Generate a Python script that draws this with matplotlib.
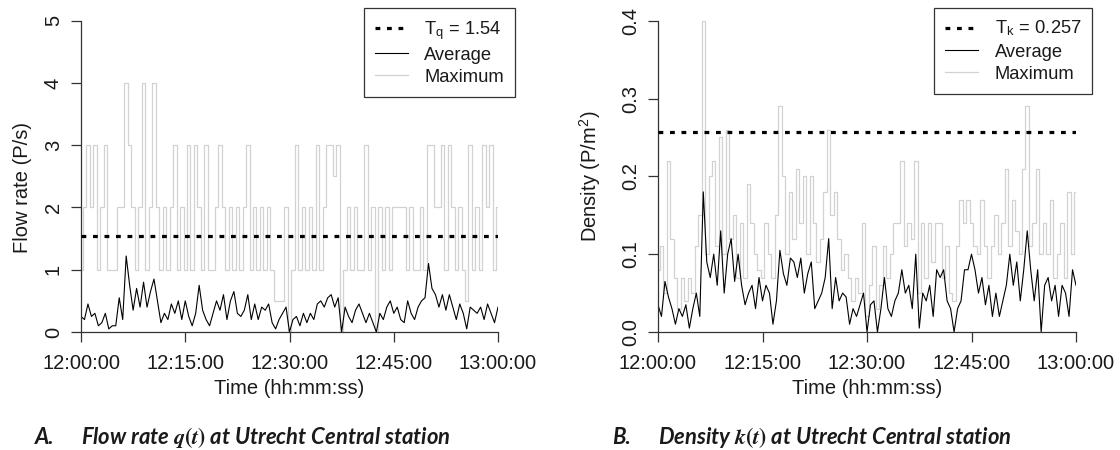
import matplotlib
matplotlib.use("Agg")
import matplotlib.pyplot as plt
import numpy as np

plt.rcParams['font.family'] = ['Liberation Sans', 'DejaVu Sans']
plt.rcParams['mathtext.fontset'] = 'stix'

# time in minutes after 12:00:00, one sample every 30 s
minutes = np.arange(121) * 0.5
tick_minutes = [0, 15, 30, 45, 60]
tick_labels = ['12:00:00', '12:15:00', '12:30:00', '12:45:00', '13:00:00']

# flow rate (P/s)
flow_max = [
    1, 2, 3, 2, 3, 1, 2, 3, 1, 1, 1, 2, 2, 4, 3, 2, 1, 2, 4, 1,
    2, 4, 2, 1, 2, 1, 2, 3, 1, 2, 1, 3, 1, 3, 2, 1, 3, 1, 1, 2,
    3, 2, 1, 2, 1, 2, 1, 2, 3, 1, 2, 1, 2, 1, 2, 1, 0.5, 0.5, 0.5, 2,
    0, 1, 3, 1, 2, 1, 2, 1, 3, 1, 2, 3, 3, 2.5, 3, 0, 1, 2, 1, 2,
    1, 1, 3, 1, 2, 0, 2, 1, 2, 1, 2, 2, 2, 2, 1, 2, 1, 1, 2, 1,
    3, 3, 2, 2, 3, 1, 3, 2, 1, 2, 1, 0.5, 3, 1, 2, 1, 3, 2, 3, 1,
    2,
]
flow_avg = [
    0.25, 0.2, 0.45, 0.25, 0.3, 0.1, 0.15, 0.3, 0.05, 0.1,
    0.1, 0.55, 0.2, 1.22, 0.75, 0.35, 0.7, 0.4, 0.8, 0.4,
    0.65, 0.85, 0.5, 0.15, 0.3, 0.2, 0.45, 0.3, 0.5, 0.2,
    0.5, 0.25, 0.1, 0.3, 0.75, 0.35, 0.2, 0.1, 0.3, 0.5,
    0.35, 0.6, 0.2, 0.5, 0.65, 0.3, 0.25, 0.35, 0.6, 0.2,
    0.45, 0.2, 0.4, 0.35, 0.45, 0.15, 0.05, 0.2, 0.3, 0.4,
    0.0, 0.2, 0.25, 0.1, 0.3, 0.15, 0.3, 0.2, 0.45, 0.5,
    0.4, 0.55, 0.6, 0.4, 0.55, 0.0, 0.4, 0.25, 0.15, 0.35,
    0.45, 0.3, 0.15, 0.3, 0.15, 0.0, 0.3, 0.2, 0.4, 0.5,
    0.3, 0.4, 0.2, 0.15, 0.5, 0.3, 0.2, 0.4, 0.5, 0.55,
    1.1, 0.7, 0.6, 0.4, 0.6, 0.35, 0.6, 0.4, 0.2, 0.45,
    0.3, 0.05, 0.4, 0.35, 0.3, 0.4, 0.2, 0.45, 0.3, 0.15,
    0.4,
]
flow_threshold = 1.54

# density (P/m^2)
dens_max = [
    0.08, 0.11, 0.05, 0.22, 0.12, 0.07, 0.03, 0.07, 0.04, 0.07,
    0.05, 0.11, 0.15, 0.40, 0.10, 0.20, 0.22, 0.11, 0.25, 0.10,
    0.26, 0.12, 0.15, 0.07, 0.14, 0.07, 0.19, 0.14, 0.10, 0.08,
    0.07, 0.14, 0.10, 0.07, 0.15, 0.29, 0.20, 0.10, 0.18, 0.12,
    0.21, 0.14, 0.20, 0.10, 0.20, 0.14, 0.09, 0.12, 0.18, 0.26,
    0.15, 0.18, 0.12, 0.08, 0.10, 0.07, 0.04, 0.07, 0.05, 0.14,
    0.02, 0.06, 0.11, 0.03, 0.06, 0.11, 0.07, 0.10, 0.14, 0.14,
    0.22, 0.11, 0.14, 0.12, 0.22, 0.05, 0.14, 0.07, 0.14, 0.09,
    0.14, 0.14, 0.07, 0.11, 0.05, 0.04, 0.11, 0.17, 0.14, 0.17,
    0.14, 0.11, 0.10, 0.17, 0.11, 0.07, 0.11, 0.15, 0.10, 0.14,
    0.21, 0.11, 0.17, 0.13, 0.10, 0.21, 0.29, 0.11, 0.14, 0.21,
    0.10, 0.14, 0.10, 0.17, 0.07, 0.10, 0.14, 0.07, 0.18, 0.10,
    0.18,
]
dens_avg = [
    0.035, 0.02, 0.065, 0.045, 0.03, 0.01, 0.03, 0.02, 0.035, 0.005,
    0.03, 0.05, 0.02, 0.18, 0.09, 0.07, 0.10, 0.06, 0.13, 0.05,
    0.10, 0.12, 0.065, 0.10, 0.06, 0.035, 0.05, 0.06, 0.03, 0.07,
    0.04, 0.06, 0.05, 0.01, 0.04, 0.105, 0.075, 0.06, 0.095, 0.09,
    0.07, 0.095, 0.05, 0.075, 0.09, 0.03, 0.04, 0.05, 0.07, 0.12,
    0.03, 0.07, 0.04, 0.05, 0.045, 0.01, 0.03, 0.02, 0.035, 0.05,
    0.0, 0.035, 0.04, 0.0, 0.03, 0.07, 0.03, 0.02, 0.04, 0.05,
    0.08, 0.05, 0.06, 0.03, 0.10, 0.005, 0.05, 0.04, 0.06, 0.02,
    0.08, 0.07, 0.08, 0.04, 0.03, 0.0, 0.03, 0.04, 0.08, 0.08,
    0.10, 0.08, 0.05, 0.07, 0.035, 0.06, 0.02, 0.05, 0.02, 0.04,
    0.06, 0.10, 0.06, 0.09, 0.04, 0.08, 0.13, 0.08, 0.04, 0.08,
    0.0, 0.06, 0.07, 0.04, 0.06, 0.02, 0.06, 0.05, 0.02, 0.08,
    0.06,
]
dens_threshold = 0.257

fig = plt.figure(figsize=(11.2, 4.5), dpi=100)
ax1 = fig.add_axes([81 / 1120, 1 - 332 / 450, 417 / 1120, 311.3 / 450])
ax2 = fig.add_axes([658 / 1120, 1 - 332 / 450, 418 / 1120, 311.3 / 450])

panels = [
    (ax1, flow_max, flow_avg, flow_threshold, 5, [0, 1, 2, 3, 4, 5], '%g',
     'Flow rate (P/s)', r'T$_{\mathregular{q}}$ = 1.54', 515, (-0.118, 0.463)),
    (ax2, dens_max, dens_avg, dens_threshold, 0.4, [0.0, 0.1, 0.2, 0.3, 0.4], '%.1f',
     r'Density (P/m$^{\mathregular{2}}$)', r'T$_{\mathregular{k}}$ = 0.257', 1092, (-0.132, 0.50)),
]

for ax, ymax, yavg, thr, top, yticks, fmt, ylab, thr_lab, leg_right, ylab_pos in panels:
    h_thr, = ax.plot([0, 60], [thr, thr], color='black', lw=2.3,
                     linestyle=(0, (1.5, 2.1)), zorder=3)
    h_max, = ax.plot(minutes, ymax, color='#d2d2d2', lw=0.9, drawstyle='steps-mid', zorder=1)
    h_avg, = ax.plot(minutes, yavg, color='black', lw=0.8, zorder=2)

    ax.set_xlim(0, 60)
    ax.set_ylim(0, top)
    ax.set_xticks(tick_minutes)
    ax.set_xticklabels(tick_labels)
    ax.set_yticks(yticks)
    ax.set_yticklabels([fmt % v for v in yticks], rotation=90, va='center')

    for s in ['top', 'right']:
        ax.spines[s].set_visible(False)
    for s in ['left', 'bottom']:
        ax.spines[s].set_color('#333333')
        ax.spines[s].set_linewidth(0.9)
    ax.tick_params(length=7, width=0.9, color='#333333', labelsize=14.5,
                   labelcolor='#1a1a1a')
    ax.tick_params(axis='x', pad=9)
    ax.tick_params(axis='y', pad=6)

    ax.set_xlabel('Time (hh:mm:ss)', fontsize=14.5, color='#1a1a1a', labelpad=4)
    ax.set_ylabel(ylab, fontsize=14.5, color='#1a1a1a')
    ax.yaxis.set_label_coords(*ylab_pos)

    leg = ax.legend([h_thr, h_avg, h_max], [thr_lab, 'Average', 'Maximum'],
                    loc='upper right', bbox_to_anchor=(leg_right / 1120, 1 - 8 / 450),
                    bbox_transform=fig.transFigure, borderaxespad=0,
                    fontsize=13.2, fancybox=False, framealpha=1,
                    edgecolor='#333333', handlelength=1.8, handletextpad=0.9,
                    labelspacing=0.28, borderpad=0.6)
    leg.get_frame().set_linewidth(0.9)
    for t in leg.get_texts():
        t.set_color('#1a1a1a')

cap_kw = dict(fontsize=15.8, fontweight='bold', fontstyle='italic',
              family=['Lato', 'DejaVu Sans'], va='center', color='#1a1a1a')
fig.text(35 / 1120, 1 - 438 / 450, 'A.', **cap_kw)
fig.text(81 / 1120, 1 - 438 / 450, r'Flow rate $\boldsymbol{q(t)}$ at Utrecht Central station', **cap_kw)
fig.text(612 / 1120, 1 - 438 / 450, 'B.', **cap_kw)
fig.text(658 / 1120, 1 - 438 / 450, r'Density $\boldsymbol{k(t)}$ at Utrecht Central station', **cap_kw)

fig.savefig('out.png', dpi=100)
